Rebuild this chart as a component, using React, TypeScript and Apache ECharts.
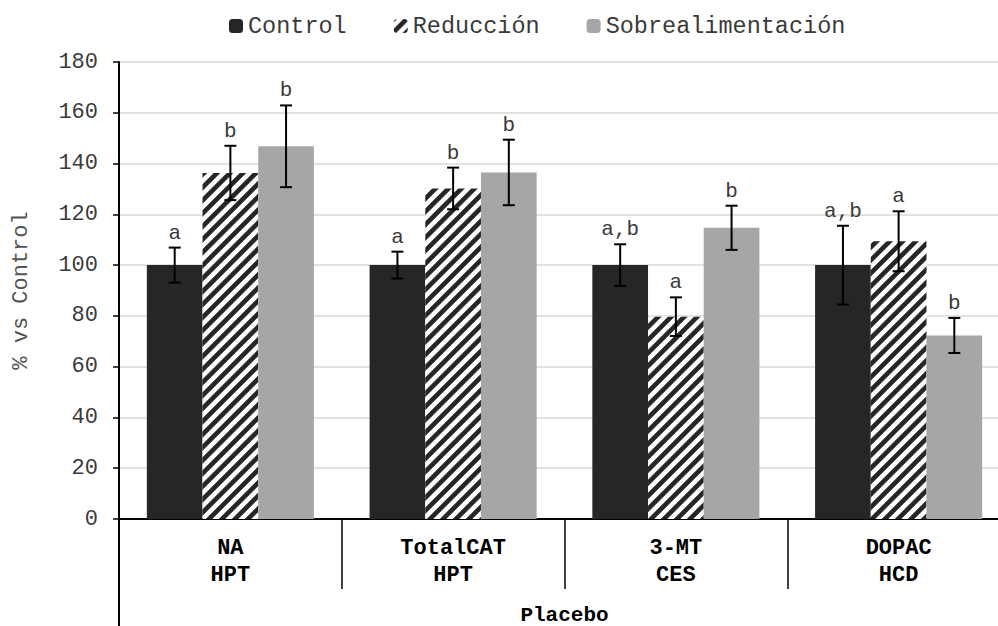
import React, { useEffect, useRef } from "react";
import * as echarts from "echarts";

const categories = ["NA\nHPT", "TotalCAT\nHPT", "3-MT\nCES", "DOPAC\nHCD"];
const groupLabel = ["Placebo"];
const seriesNames = ["Control", "Reducción", "Sobrealimentación"];

const control = [100, 100, 100, 100];
const controlErr = [6.9, 5.3, 8.2, 15.5];
const controlLetters = ["a", "a", "a,b", "a,b"];

const reduccion = [136.3, 130.2, 79.7, 109.4];
const reduccionErr = [10.7, 8.2, 7.6, 11.8];
const reduccionLetters = ["b", "b", "a", "a"];

const sobre = [146.8, 136.5, 114.7, 72.3];
const sobreErr = [16.1, 12.9, 8.7, 6.9];
const sobreLetters = ["b", "b", "b", "b"];

const FONT = "'Liberation Mono', 'DejaVu Sans Mono', monospace";
const DARK = "#262626";
const GRAY = "#a6a6a6";
const TEXT = "#3a3a3a";
const GAP = 0.25;

const GRID_LEFT = 119;
const GRID_TOP = 62;
const GRID_BOTTOM = 107;
const CHART_W = 1020;
const CHART_H = 626;

function hatchPattern() {
  const s = 13;
  const c = document.createElement("canvas");
  c.width = s;
  c.height = s;
  const ctx = c.getContext("2d")!;
  ctx.fillStyle = "#ffffff";
  ctx.fillRect(0, 0, s, s);
  ctx.strokeStyle = DARK;
  ctx.lineWidth = 4.6;
  ctx.beginPath();
  for (const o of [-s, 0, s]) {
    ctx.moveTo(o - 3, s + 3);
    ctx.lineTo(o + s + 3, -3);
  }
  ctx.stroke();
  return {
    image: c.toDataURL(),
    imageWidth: s,
    imageHeight: s,
    repeat: "repeat",
  };
}

function errorSeries(
  name: string,
  vals: number[],
  errs: number[],
  letters: string[],
  slot: number
) {
  return {
    type: "custom",
    name,
    z: 10,
    silent: true,
    data: vals.map((v, i) => [i, v - errs[i], v + errs[i]]),
    renderItem: (params: any, api: any) => {
      const cat = api.value(0);
      const lo = api.value(1);
      const hi = api.value(2);
      const band = api.size([1, 0])[0];
      const bw = (band * (1 - GAP)) / 3;
      const x = api.coord([cat, 0])[0] + (slot - 1) * bw;
      const yLo = api.coord([cat, lo])[1];
      const yHi = api.coord([cat, hi])[1];
      const cap = 6;
      const st = { stroke: "#000", lineWidth: 2 };
      return {
        type: "group",
        children: [
          { type: "line", shape: { x1: x, y1: yLo, x2: x, y2: yHi }, style: st },
          { type: "line", shape: { x1: x - cap, y1: yHi, x2: x + cap, y2: yHi }, style: st },
          { type: "line", shape: { x1: x - cap, y1: yLo, x2: x + cap, y2: yLo }, style: st },
          {
            type: "text",
            x,
            y: yHi - 4,
            style: {
              text: letters[params.dataIndex],
              fontFamily: FONT,
              fontSize: 21,
              fill: TEXT,
              align: "center",
              verticalAlign: "bottom",
            },
          },
        ],
      };
    },
  };
}

export default function App() {
  const ref = useRef<HTMLDivElement>(null);

  useEffect(() => {
    if (!ref.current) return;
    const chart = echarts.init(ref.current, undefined, { renderer: "svg" });
    const hatch = hatchPattern();

    chart.setOption({
      animation: false,
      textStyle: { fontFamily: FONT },
      legend: {
        top: 9,
        left: 224,
        itemWidth: 14,
        itemHeight: 14,
        itemGap: 47,
        data: seriesNames,
        textStyle: { fontFamily: FONT, fontSize: 23.5, color: TEXT },
      },
      grid: {
        left: GRID_LEFT,
        top: GRID_TOP,
        right: CHART_W - 1010,
        bottom: GRID_BOTTOM,
        containLabel: false,
        outerBoundsMode: "none",
      },
      xAxis: [
        {
          type: "category",
          data: categories,
          position: "bottom",
          axisLine: { lineStyle: { color: "#000", width: 2 } },
          axisTick: {
            show: true,
            length: 70,
            inside: false,
            lineStyle: { color: "#000", width: 1.5 },
          },
          axisLabel: {
            margin: 16,
            fontFamily: FONT,
            fontSize: 22,
            fontWeight: "bold",
            color: "#000",
            lineHeight: 27,
          },
        },
        {
          type: "category",
          data: groupLabel,
          position: "bottom",
          axisLine: { show: false },
          axisTick: { show: false },
          axisLabel: {
            margin: 87,
            fontFamily: FONT,
            fontSize: 21,
            fontWeight: "bold",
            color: "#000",
            lineHeight: 18,
          },
        },
      ],
      yAxis: {
        type: "value",
        min: 0,
        max: 180,
        interval: 20,
        name: "% vs Control",
        nameLocation: "middle",
        nameGap: 87,
        nameTextStyle: { fontFamily: FONT, fontSize: 22, color: "#555" },
        axisLine: { show: true, lineStyle: { color: "#000", width: 2 } },
        axisTick: { show: true, length: 6, lineStyle: { color: "#000", width: 1.5 } },
        axisLabel: { margin: 21, fontFamily: FONT, fontSize: 22, color: TEXT },
        splitLine: { lineStyle: { color: "#d9d9d9", width: 1.5 } },
      },
      series: [
        {
          type: "bar",
          name: seriesNames[0],
          data: control,
          barGap: "0%",
          barCategoryGap: `${GAP * 100}%`,
          itemStyle: { color: DARK },
        },
        {
          type: "bar",
          name: seriesNames[1],
          data: reduccion,
          barGap: "0%",
          barCategoryGap: `${GAP * 100}%`,
          itemStyle: { color: hatch },
        },
        {
          type: "bar",
          name: seriesNames[2],
          data: sobre,
          barGap: "0%",
          barCategoryGap: `${GAP * 100}%`,
          itemStyle: { color: GRAY },
        },
        errorSeries("Control error", control, controlErr, controlLetters, 0),
        errorSeries("Reducción error", reduccion, reduccionErr, reduccionLetters, 1),
        errorSeries("Sobrealimentación error", sobre, sobreErr, sobreLetters, 2),
      ],
      graphic: [
        {
          type: "line",
          shape: { x1: GRID_LEFT, y1: CHART_H - GRID_BOTTOM, x2: GRID_LEFT, y2: CHART_H },
          style: { stroke: "#000", lineWidth: 2 },
        },
      ],
    });

    return () => chart.dispose();
  }, []);

  return (
    <div
      style={{
        position: "fixed",
        left: 0,
        top: 0,
        width: 998,
        height: 626,
        overflow: "hidden",
        background: "#fff",
      }}
    >
      <div ref={ref} style={{ width: CHART_W, height: CHART_H }} />
    </div>
  );
}
